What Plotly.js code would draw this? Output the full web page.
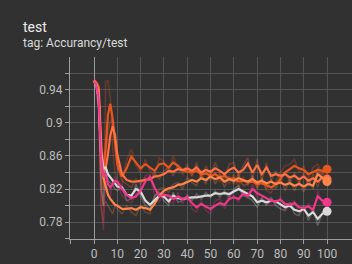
<!DOCTYPE html>
<html>
<head>
<meta charset="utf-8">
<script src="https://cdn.plot.ly/plotly-3.0.1.min.js"></script>
<style>
html,body{margin:0;padding:0;background:#313131;}
#chart{width:352px;height:264px;}
</style>
</head>
<body>
<div id="chart"></div>
<script>
// Steps (x axis)
const steps = [0,1,2,3,4,5,6,7,8,9,10,12,14,16,18,20,22,24,26,28,30,32,34,36,38,40,42,44,46,48,50,52,54,56,58,60,62,64,66,68,70,72,74,76,78,80,82,84,86,88,90,92,94,96,98,100];

// Smoothed series
const runA = [0.952,0.949,0.944,0.880,0.840,0.870,0.910,0.923,0.905,0.875,0.850,0.835,0.845,0.859,0.852,0.845,0.850,0.846,0.842,0.850,0.851,0.846,0.852,0.848,0.843,0.841,0.840,0.842,0.838,0.839,0.836,0.838,0.834,0.836,0.832,0.833,0.829,0.830,0.828,0.829,0.826,0.827,0.824,0.822,0.826,0.832,0.840,0.844,0.848,0.845,0.843,0.838,0.841,0.843,0.842,0.844];
const runB = [0.951,0.947,0.940,0.870,0.840,0.845,0.862,0.885,0.896,0.885,0.862,0.838,0.831,0.829,0.829,0.830,0.831,0.832,0.835,0.836,0.838,0.842,0.841,0.844,0.843,0.845,0.842,0.846,0.840,0.843,0.841,0.845,0.842,0.838,0.843,0.846,0.840,0.843,0.851,0.840,0.849,0.838,0.846,0.836,0.838,0.836,0.838,0.834,0.836,0.832,0.835,0.830,0.833,0.829,0.834,0.832];
const runC = [0.950,0.946,0.935,0.860,0.834,0.822,0.813,0.808,0.804,0.801,0.800,0.796,0.796,0.797,0.795,0.798,0.797,0.795,0.802,0.812,0.818,0.821,0.822,0.825,0.826,0.829,0.831,0.829,0.833,0.831,0.835,0.832,0.834,0.829,0.832,0.830,0.833,0.831,0.829,0.832,0.828,0.830,0.827,0.829,0.826,0.828,0.825,0.827,0.824,0.826,0.823,0.826,0.824,0.838,0.833,0.829];
const runW = [0.950,0.946,0.930,0.865,0.845,0.846,0.838,0.834,0.830,0.826,0.823,0.822,0.813,0.812,0.820,0.817,0.806,0.801,0.807,0.812,0.811,0.805,0.812,0.809,0.808,0.809,0.810,0.810,0.811,0.812,0.812,0.815,0.814,0.815,0.814,0.817,0.820,0.817,0.814,0.811,0.804,0.806,0.804,0.806,0.805,0.801,0.798,0.800,0.795,0.793,0.796,0.788,0.792,0.784,0.790,0.793];
const runP = [0.950,0.946,0.930,0.860,0.835,0.838,0.826,0.822,0.826,0.830,0.829,0.820,0.813,0.809,0.811,0.818,0.829,0.835,0.822,0.811,0.813,0.812,0.808,0.811,0.808,0.810,0.803,0.798,0.802,0.799,0.796,0.800,0.803,0.801,0.808,0.810,0.808,0.814,0.812,0.820,0.815,0.812,0.809,0.806,0.805,0.807,0.802,0.801,0.803,0.798,0.797,0.799,0.795,0.811,0.806,0.804];

// Raw (unsmoothed) series, drawn faintly
const rawA = [0.952,0.948,0.940,0.800,0.780,0.950,0.951,0.930,0.870,0.840,0.830,0.825,0.855,0.868,0.848,0.840,0.856,0.842,0.836,0.858,0.853,0.840,0.860,0.845,0.838,0.846,0.835,0.848,0.832,0.843,0.830,0.842,0.828,0.840,0.826,0.838,0.822,0.835,0.824,0.834,0.820,0.832,0.818,0.815,0.830,0.840,0.848,0.850,0.856,0.840,0.848,0.832,0.846,0.850,0.838,0.845];
const rawB = [0.951,0.945,0.930,0.840,0.820,0.860,0.890,0.900,0.905,0.870,0.845,0.830,0.826,0.822,0.832,0.826,0.834,0.830,0.840,0.832,0.842,0.846,0.836,0.850,0.840,0.850,0.836,0.852,0.834,0.848,0.836,0.852,0.838,0.832,0.850,0.852,0.834,0.848,0.858,0.832,0.856,0.830,0.852,0.830,0.842,0.830,0.842,0.828,0.840,0.826,0.840,0.824,0.838,0.822,0.840,0.830];
const rawC = [0.950,0.944,0.920,0.820,0.800,0.805,0.800,0.795,0.790,0.800,0.796,0.790,0.800,0.792,0.788,0.800,0.792,0.790,0.810,0.820,0.822,0.816,0.826,0.828,0.820,0.834,0.828,0.824,0.838,0.826,0.840,0.826,0.838,0.822,0.836,0.826,0.838,0.824,0.826,0.836,0.822,0.834,0.820,0.832,0.820,0.834,0.818,0.832,0.818,0.830,0.816,0.832,0.820,0.846,0.830,0.826];
const rawW = [0.950,0.944,0.915,0.830,0.800,0.850,0.830,0.828,0.825,0.820,0.818,0.824,0.806,0.808,0.826,0.812,0.800,0.796,0.812,0.816,0.806,0.800,0.816,0.804,0.806,0.812,0.806,0.814,0.808,0.816,0.810,0.818,0.810,0.818,0.810,0.820,0.824,0.812,0.810,0.806,0.798,0.810,0.800,0.810,0.800,0.796,0.794,0.804,0.790,0.788,0.800,0.782,0.796,0.776,0.792,0.795];
const rawP = [0.950,0.944,0.910,0.800,0.770,0.830,0.815,0.810,0.830,0.835,0.826,0.812,0.806,0.803,0.814,0.824,0.836,0.838,0.812,0.804,0.818,0.808,0.802,0.816,0.802,0.814,0.796,0.792,0.806,0.794,0.790,0.806,0.808,0.796,0.814,0.812,0.804,0.820,0.808,0.826,0.810,0.806,0.804,0.800,0.802,0.810,0.796,0.798,0.806,0.792,0.794,0.802,0.790,0.818,0.802,0.800];

const yTickVals = [0.76,0.78,0.80,0.82,0.84,0.86,0.88,0.90,0.92,0.94,0.96];
const yTickText = ['','0.78','','0.82','','0.86','','0.9','','0.94',''];
const xTickVals = [-10,0,10,20,30,40,50,60,70,80,90,100];
const xTickText = ['','0','10','20','30','40','50','60','70','80','90','100'];

const series = [
  {smooth: runA, raw: rawA, color: '#e8561f'},
  {smooth: runB, raw: rawB, color: '#ff7043'},
  {smooth: runC, raw: rawC, color: '#ff8548'},
  {smooth: runW, raw: rawW, color: '#d9d9d9'},
  {smooth: runP, raw: rawP, color: '#f0378a'}
];

const traces = [];
series.forEach(s => {
  traces.push({x: steps, y: s.raw, mode: 'lines', type: 'scatter',
    line: {color: s.color, width: 1.5}, opacity: 0.28, hoverinfo: 'skip'});
});
series.forEach(s => {
  traces.push({x: steps, y: s.smooth, mode: 'lines', type: 'scatter',
    line: {color: s.color, width: 2.2}, hoverinfo: 'skip'});
});
series.forEach(s => {
  const n = steps.length - 1;
  traces.push({x: [steps[n]], y: [s.smooth[n]], mode: 'markers', type: 'scatter',
    marker: {color: s.color, size: 9}, hoverinfo: 'skip'});
});

const layout = {
  width: 352, height: 264,
  paper_bgcolor: '#313131', plot_bgcolor: '#313131',
  showlegend: false,
  margin: {l: 70, r: 0, t: 57, b: 25, pad: 0},
  font: {family: 'Roboto, sans-serif', color: '#bdbdbd', size: 12},
  xaxis: {
    range: [-10.3, 110.7], tickvals: xTickVals, ticktext: xTickText,
    showgrid: true, gridcolor: '#545454', gridwidth: 1,
    zeroline: true, zerolinecolor: '#9a9a9a', zerolinewidth: 1,
    showline: true, linecolor: '#9e9e9e', linewidth: 1,
    ticks: 'outside', ticklen: 4, tickcolor: '#9e9e9e',
    tickfont: {size: 12, color: '#bdbdbd'}
  },
  yaxis: {
    range: [0.7596, 0.9796], tickvals: yTickVals, ticktext: yTickText,
    showgrid: true, gridcolor: '#545454', gridwidth: 1,
    zeroline: false,
    showline: true, linecolor: '#9e9e9e', linewidth: 1,
    ticks: 'outside', ticklen: 4, tickcolor: '#9e9e9e',
    tickfont: {size: 12, color: '#bdbdbd'}
  },
  annotations: [
    {text: 'test', xref: 'paper', yref: 'paper', x: (21-70)/282, y: (239-27)/182,
     xanchor: 'left', yanchor: 'middle', showarrow: false,
     font: {size: 14, color: '#ececec', family: 'Roboto, sans-serif'}},
    {text: 'tag: Accurancy/test', xref: 'paper', yref: 'paper', x: (21-70)/282, y: (239-43)/182,
     xanchor: 'left', yanchor: 'middle', showarrow: false,
     font: {size: 12, color: '#dadada', family: 'Roboto, sans-serif'}}
  ]
};

Plotly.newPlot('chart', traces, layout, {displayModeBar: false, staticPlot: true});
</script>
</body>
</html>
